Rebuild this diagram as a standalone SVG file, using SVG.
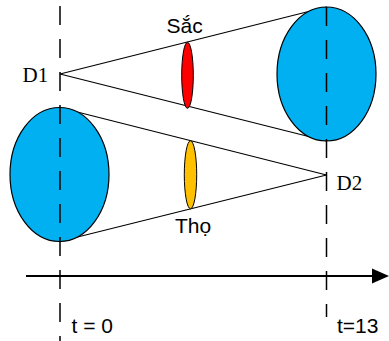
<svg xmlns="http://www.w3.org/2000/svg" width="389" height="341" viewBox="0 0 389 341">
<style>
.ln{stroke:#000;stroke-width:1.2;fill:none}
.dash{stroke:#000;stroke-width:1.5;stroke-dasharray:19 14;fill:none}
.big{fill:#00B0F0;stroke:#000;stroke-width:1.2}
.sans{font-family:"Liberation Sans",Arial,sans-serif;font-size:21px;fill:#000}
.serif{font-family:"Liberation Serif","Times New Roman",serif;font-size:21px;fill:#000}
</style>
<rect width="389" height="341" fill="#fff"/>
<g id="connectors">
<line class="ln" x1="60" y1="74" x2="326.5" y2="7"/>
<line class="ln" x1="60" y1="74" x2="326.5" y2="141"/>
<line class="ln" x1="59.5" y1="107.5" x2="326.5" y2="175"/>
<line class="ln" x1="59.5" y1="241.5" x2="326.5" y2="175"/>
</g>
<g id="sac-cone">
<ellipse class="big" cx="326.5" cy="74" rx="49.5" ry="67"/>
</g>
<g id="tho-cone">
<ellipse class="big" cx="59.5" cy="174.5" rx="49.5" ry="67"/>
</g>
<g id="sac">
<ellipse cx="187.5" cy="75.3" rx="5.8" ry="33" fill="#FF0000" stroke="#000" stroke-width="1"/>
<text class="sans" x="166.5" y="33.3">Sắc</text>
</g>
<g id="tho">
<ellipse cx="190.5" cy="174.8" rx="6.2" ry="34" fill="#FFC000" stroke="#000" stroke-width="1"/>
<text class="sans" x="175" y="233">Thọ</text>
</g>
<g id="timelines">
<line class="dash" x1="60" y1="6" x2="60" y2="341"/>
<line class="dash" x1="326.5" y1="7" x2="326.5" y2="317"/>
</g>
<g id="axis">
<line x1="26" y1="276" x2="374" y2="276" stroke="#000" stroke-width="2"/>
<polygon points="372,268.5 389,276 372,283.5" fill="#000"/>
</g>
<g id="D1"><text class="serif" x="22.5" y="81.7">D1</text></g>
<g id="D2"><text class="serif" x="336.5" y="190">D2</text></g>
<g id="t0"><text class="sans" x="71.5" y="333">t = 0</text></g>
<g id="t13"><text class="sans" x="337" y="333">t=13</text></g>
</svg>
